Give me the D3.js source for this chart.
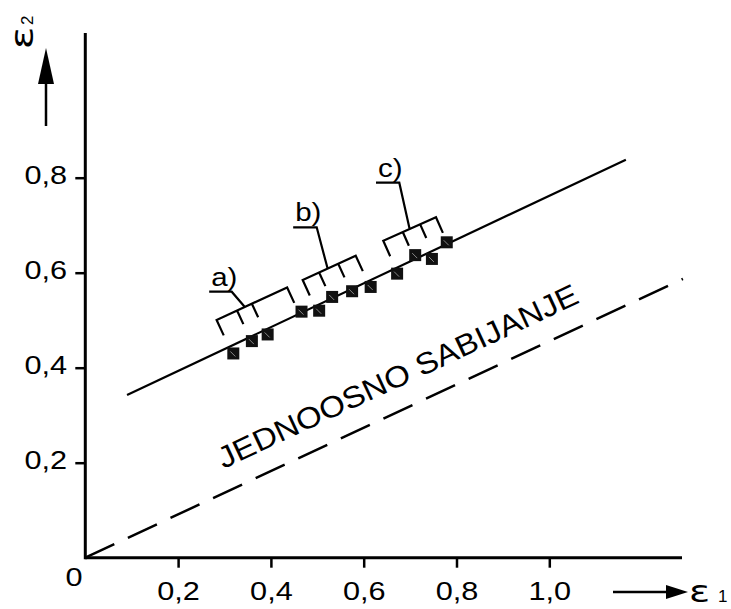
<!DOCTYPE html>
<html>
<head>
<meta charset="utf-8">
<script src="https://cdn.jsdelivr.net/npm/d3@7"></script>
<style>
  body { margin: 0; background: #fff; }
  svg { display: block; }
  text { font-family: "Liberation Sans", Arial, sans-serif; fill: #000; }
</style>
</head>
<body>
<div id="chart"></div>
<script>
const width = 731;
const height = 609;

const eps1 = [0.319, 0.359, 0.393, 0.466, 0.504, 0.532, 0.575, 0.615, 0.672, 0.711, 0.747, 0.779];
const eps2 = [0.430, 0.456, 0.470, 0.518, 0.520, 0.549, 0.561, 0.570, 0.598, 0.637, 0.629, 0.664];

// fitted line through the points and the uniaxial compression line
const fitLine = [[0.09, 0.3425], [1.165, 0.838]];
const uniaxialLine = [[0, 0], [1.288, 0.587]];

const xTicks = [0.2, 0.4, 0.6, 0.8, 1.0];
const yTicks = [0.2, 0.4, 0.6, 0.8];

// groups a), b), c) - bracket ends, inner legs, leader
const groupLabels = ["a)", "b)", "c)"];
const groupStart = [[0.283, 0.5005], [0.4685, 0.5846], [0.6422, 0.6674]];
const groupEnd = [[0.435, 0.569], [0.5828, 0.6358], [0.7558, 0.7166]];
const groupInner = [[0.29, 0.50], [0.31, 0.67], [0.37, 0.70]];
const groupLead = [0.40, 0.47, 0.50];
const groupKnee = [[0.3155, 0.56], [0.4987, 0.6956], [0.6767, 0.7895]];
const groupTail = [0.267, 0.448, 0.6265];

const uniaxialLabel = "JEDNOOSNO SABIJANJE";
const uniaxialLabelAt = [0.298, 0.187];

const sx = 1.18; // the figure's lettering is a bit wide

const svg = d3.select("#chart").append("svg")
  .attr("width", width)
  .attr("height", height);

const x = d3.scaleLinear().domain([0, 1]).range([85.3, 549.3]);
const y = d3.scaleLinear().domain([0, 1]).range([557.7, 82.7]);

function wideText(g, px, py, str, size, anchor) {
  return g.append("text")
    .attr("transform", `translate(${px},${py}) scale(${sx},1)`)
    .attr("text-anchor", anchor)
    .style("font-size", size + "px")
    .text(str);
}

const fmt = d => d3.format(".1f")(d).replace(".", ",");

// x axis
const xAxis = svg.append("g")
  .attr("transform", `translate(0,${y(0)})`)
  .call(d3.axisBottom(x).tickValues(xTicks).tickSize(10).tickFormat(fmt));
xAxis.select(".domain").remove();
xAxis.selectAll(".tick line").attr("stroke", "#000").attr("stroke-width", 2.5);
xAxis.selectAll(".tick text")
  .attr("y", 42.5).attr("dy", 0)
  .attr("transform", `scale(${sx},1)`)
  .style("font-size", "26px")
  .style("font-family", '"Liberation Sans", Arial, sans-serif');

// y axis
const yAxis = svg.append("g")
  .attr("transform", `translate(${x(0)},0)`)
  .call(d3.axisLeft(y).tickValues(yTicks).tickSize(10).tickFormat(fmt));
yAxis.select(".domain").remove();
yAxis.selectAll(".tick line").attr("stroke", "#000").attr("stroke-width", 2.5);
yAxis.selectAll(".tick text")
  .attr("x", -18.3 / sx).attr("y", 6).attr("dy", 0)
  .attr("transform", `scale(${sx},1)`)
  .style("font-size", "26px")
  .style("font-family", '"Liberation Sans", Arial, sans-serif');

// axis lines
svg.append("line")
  .attr("x1", x(0)).attr("y1", y(0))
  .attr("x2", 682).attr("y2", y(0))
  .attr("stroke", "#000").attr("stroke-width", 3);
svg.append("line")
  .attr("x1", x(0)).attr("y1", y(0) + 1.5)
  .attr("x2", x(0)).attr("y2", 33)
  .attr("stroke", "#000").attr("stroke-width", 3);

wideText(svg, 74, 586, "0", 26, "middle");

// axis arrows and names
svg.append("line")
  .attr("x1", 46).attr("y1", 126).attr("x2", 46).attr("y2", 80)
  .attr("stroke", "#000").attr("stroke-width", 2.5);
svg.append("path")
  .attr("d", "M46,48 L54,84 L38,84 Z")
  .attr("fill", "#000");

svg.append("line")
  .attr("x1", 613).attr("y1", 592).attr("x2", 672).attr("y2", 592)
  .attr("stroke", "#000").attr("stroke-width", 2.5);
svg.append("path")
  .attr("d", "M688,592 L666,585 L666,599 Z")
  .attr("fill", "#000");

// eps1
svg.append("text")
  .attr("transform", `translate(689,601.5) scale(1.3,1)`)
  .style("font-family", '"DejaVu Sans", sans-serif')
  .style("font-size", "30px")
  .text("ε");
svg.append("text")
  .attr("x", 718).attr("y", 602)
  .style("font-size", "17px")
  .text("1");

// eps2, written upward
const e2 = svg.append("g").attr("transform", "translate(33,48) rotate(-90)");
e2.append("text")
  .attr("transform", "scale(1.3,1)")
  .attr("x", -1)
  .style("font-family", '"DejaVu Sans", sans-serif')
  .style("font-size", "32px")
  .text("ε");
e2.append("text")
  .attr("x", 23)
  .style("font-size", "17px")
  .text("2");

// uniaxial compression line (dashed)
const line = d3.line().x(d => x(d[0])).y(d => y(d[1]));
svg.append("path")
  .attr("d", line(uniaxialLine))
  .attr("fill", "none")
  .attr("stroke", "#000")
  .attr("stroke-width", 2.5)
  .attr("stroke-dasharray", "32,15");

const ang = Math.atan2(
  y(uniaxialLine[0][1]) - y(uniaxialLine[1][1]),
  x(uniaxialLine[1][0]) - x(uniaxialLine[0][0])) * 180 / Math.PI;
svg.append("text")
  .attr("transform", `translate(${x(uniaxialLabelAt[0])},${y(uniaxialLabelAt[1])}) rotate(${-ang}) scale(1.1,1)`)
  .style("font-size", "30px")
  .text(uniaxialLabel);

// fitted line
svg.append("path")
  .attr("d", line(fitLine))
  .attr("fill", "none")
  .attr("stroke", "#000")
  .attr("stroke-width", 2.2);

// points
const pts = eps1.map((v, i) => [v, eps2[i]]);
const sq = 12;
const ptG = svg.append("g").selectAll("g")
  .data(pts)
  .join("g")
  .attr("transform", d => `translate(${x(d[0])},${y(d[1])})`);
ptG.append("rect")
  .attr("x", -sq / 2).attr("y", -sq / 2)
  .attr("width", sq).attr("height", sq)
  .attr("fill", "#111");
ptG.append("line")
  .attr("x1", -3).attr("y1", -2).attr("x2", 2).attr("y2", 3)
  .attr("stroke", "#888").attr("stroke-width", 1);

// brackets with leaders and labels
groupLabels.forEach((lab, i) => {
  const s = [x(groupStart[i][0]), y(groupStart[i][1])];
  const e = [x(groupEnd[i][0]), y(groupEnd[i][1])];
  const len = Math.hypot(e[0] - s[0], e[1] - s[1]);
  const u = [(e[0] - s[0]) / len, (e[1] - s[1]) / len];
  const n = [-u[1], u[0]];
  const at = t => [s[0] + u[0] * len * t, s[1] + u[1] * len * t];
  const leg = (t, L) => {
    const p = at(t);
    return `M${p[0]},${p[1]} L${p[0] + n[0] * L},${p[1] + n[1] * L}`;
  };
  let d = `M${s[0] + n[0] * 17},${s[1] + n[1] * 17} L${s[0]},${s[1]} L${e[0]},${e[1]} L${e[0] + n[0] * 17},${e[1] + n[1] * 17}`;
  groupInner[i].forEach(t => { d += " " + leg(t, 15); });
  const lp = at(groupLead[i]);
  const kx = x(groupKnee[i][0]), ky = y(groupKnee[i][1]);
  d += ` M${lp[0]},${lp[1]} L${kx},${ky} L${x(groupTail[i])},${ky}`;
  svg.append("path")
    .attr("d", d)
    .attr("fill", "none")
    .attr("stroke", "#000")
    .attr("stroke-width", 2.2);
  wideText(svg, x(groupTail[i]) + 2, ky - 6, lab, 25, "start");
});
</script>
</body>
</html>
